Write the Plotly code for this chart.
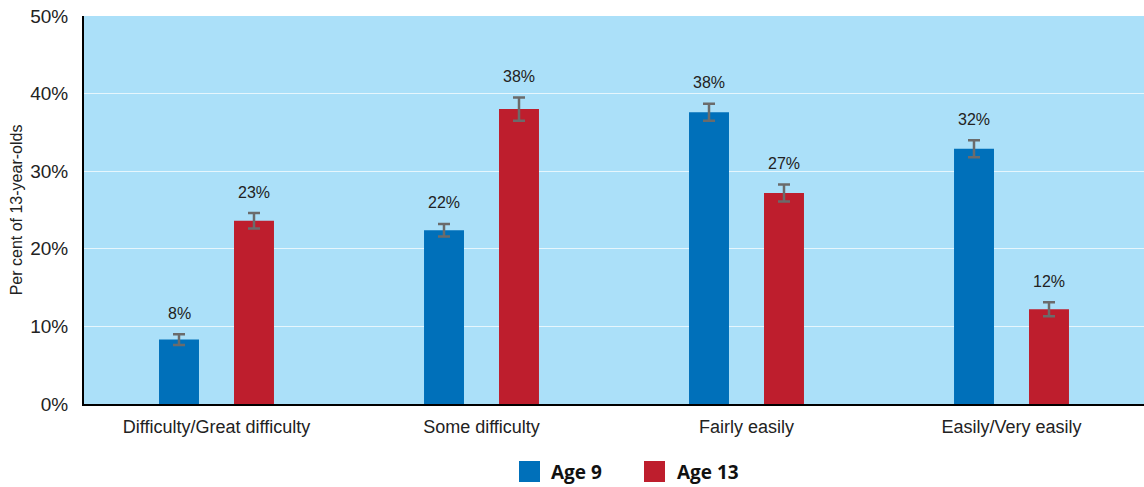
import plotly.graph_objects as go

categories = ["Difficulty/Great difficulty", "Some difficulty", "Fairly easily", "Easily/Very easily"]
age9 = [8.3, 22.4, 37.6, 32.9]
age9_err = [0.7, 0.8, 1.1, 1.1]
age9_labels = ["8%", "22%", "38%", "32%"]
age13 = [23.6, 38.0, 27.2, 12.2]
age13_err = [1.0, 1.5, 1.1, 0.9]
age13_labels = ["23%", "38%", "27%", "12%"]
y_ticks = [0, 10, 20, 30, 40, 50]
y_ticktext = ["0%", "10%", "20%", "30%", "40%", "50%"]
series_names = ["Age 9", "Age 13"]

BLUE = "#0070BA"
RED = "#BE1E2D"
GREY = "#6B6B6B"

PLOT_W, PLOT_H = 1060, 388

fig = go.Figure()
fig.add_trace(go.Bar(
    name=series_names[0], x=categories, y=age9, marker_color=BLUE, marker_line_width=0,
    error_y=dict(type="data", array=age9_err, color=GREY, thickness=2.5, width=6),
    offsetgroup="a",
))
fig.add_trace(go.Bar(
    name=series_names[1], x=categories, y=age13, marker_color=RED, marker_line_width=0,
    error_y=dict(type="data", array=age13_err, color=GREY, thickness=2.5, width=6),
    offsetgroup="b",
))

# value labels above error bars
for i, c in enumerate(categories):
    for vals, errs, labs, shift in ((age9, age9_err, age9_labels, -37.5), (age13, age13_err, age13_labels, 37.5)):
        fig.add_annotation(
            x=c, y=vals[i] + errs[i], text=labs[i], showarrow=False,
            xshift=shift, yshift=21, font=dict(size=16, color="#222222", family="Liberation Sans, Arial"),
        )

# custom legend (larger squares, as in the reference); offsets relative to plot area
legend_items = [(series_names[0], BLUE, 435, 465), (series_names[1], RED, 560, 591)]
for name, col, sx, tx in legend_items:
    fig.add_shape(type="rect", xref="paper", yref="paper",
                  x0=sx / PLOT_W, x1=(sx + 21) / PLOT_W,
                  y0=-57 / PLOT_H, y1=-78 / PLOT_H,
                  fillcolor=col, line_width=0)
    fig.add_annotation(xref="paper", yref="paper", x=tx / PLOT_W, y=-67.5 / PLOT_H,
                       xanchor="left", yanchor="middle", showarrow=False, text="<b>%s</b>" % name,
                       font=dict(size=19, family="Open Sans, Liberation Sans", color="#111111"))

fig.update_layout(
    width=1144, height=487,
    margin=dict(l=84, r=0, t=16, b=83, pad=0),
    paper_bgcolor="white",
    plot_bgcolor="#ABE0F9",
    barmode="group",
    bargap=0.434, bargroupgap=0.467,
    font=dict(family="Liberation Sans, Arial", color="#222222"),
    showlegend=False,
)
fig.update_yaxes(
    range=[0, 50], tickvals=y_ticks, ticktext=y_ticktext,
    tickfont=dict(size=19), showgrid=True, gridcolor="rgba(255,255,255,0.7)", gridwidth=1,
    showline=True, linecolor="black", linewidth=2, ticks="", ticklabelstandoff=10,
    zeroline=False, automargin=False, ticklabeloverflow="allow",
    title=dict(text="Per cent of 13-year-olds", font=dict(size=16), standoff=4),
)
fig.update_xaxes(
    showline=True, linecolor="black", linewidth=2, ticks="", automargin=False,
    tickfont=dict(size=18), showgrid=False, ticklabelstandoff=5,
)

# remove the browser's default body margin so the figure fills the window exactly
fig.write_html(
    "out.html",
    config={"displayModeBar": False},
    post_script="document.body.style.margin='0';document.body.style.overflow='hidden';",
)
